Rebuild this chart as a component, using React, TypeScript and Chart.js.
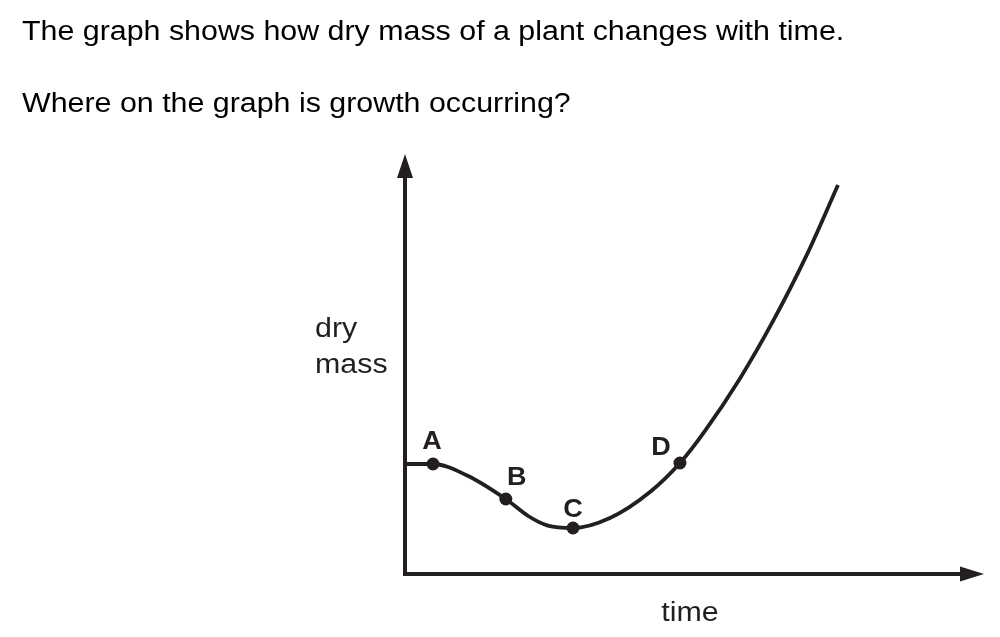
import React, { useEffect, useRef } from "react";
import { Chart, registerables } from "chart.js";

Chart.register(...registerables);

// ---- text ----
const QUESTION_LINES = [
  "The graph shows how dry mass of a plant changes with time.",
  "Where on the graph is growth occurring?",
];
const X_AXIS_LABEL = "time";
const Y_AXIS_LABEL = ["dry", "mass"];

// ---- curve (time, dry mass) in arbitrary units ----
const curveTime = [0, 0.5, 1.1, 1.8, 2.2, 2.55, 3.0, 3.66, 4.375, 4.91, 5.357, 5.982, 6.571, 7.179, 7.732];
const curveMass = [2.75, 2.75, 2.47, 1.875, 1.45, 1.21, 1.15, 1.4, 2.05, 2.775, 3.58, 4.89, 6.32, 7.99, 9.725];

// ---- marked points ----
const pointLabels = ["A", "B", "C", "D"];
const pointTime = [0.5, 1.8, 3.0, 4.91];
const pointMass = [2.75, 1.875, 1.15, 2.775];

// ---- style ----
const INK = "#231f20";
const FONT = "'Liberation Sans', Arial, Helvetica, sans-serif";
const TEXT_STRETCH = 1.125;
const LABEL_OFFSETS: [number, number][] = [
  [-1, -15],
  [11, -14],
  [0, -11],
  [-19, -8],
];

function stretchedText(
  ctx: CanvasRenderingContext2D,
  text: string,
  x: number,
  y: number,
  align: CanvasTextAlign,
  sx: number
) {
  ctx.save();
  ctx.translate(x, y);
  ctx.scale(sx, 1);
  ctx.textAlign = align;
  ctx.textBaseline = "alphabetic";
  ctx.fillText(text, 0, 0);
  ctx.restore();
}

const decorations = {
  id: "decorations",
  afterDraw(chart: any) {
    const { ctx, chartArea, scales } = chart;
    const xs = scales.x;
    const ys = scales.y;
    const x0 = xs.getPixelForValue(0);
    const y0 = ys.getPixelForValue(0);
    ctx.save();
    ctx.fillStyle = INK;
    // y-axis arrowhead
    ctx.beginPath();
    ctx.moveTo(x0, chartArea.top - 20);
    ctx.lineTo(x0 - 8, chartArea.top + 4);
    ctx.lineTo(x0 + 8, chartArea.top + 4);
    ctx.closePath();
    ctx.fill();
    // x-axis arrowhead
    ctx.beginPath();
    ctx.moveTo(chartArea.right + 19, y0);
    ctx.lineTo(chartArea.right - 5, y0 - 7.5);
    ctx.lineTo(chartArea.right - 5, y0 + 7.5);
    ctx.closePath();
    ctx.fill();

    // point labels
    ctx.font = `bold 25px ${FONT}`;
    pointLabels.forEach((lab, i) => {
      const px = xs.getPixelForValue(pointTime[i]) + LABEL_OFFSETS[i][0];
      const py = ys.getPixelForValue(pointMass[i]) + LABEL_OFFSETS[i][1];
      stretchedText(ctx, lab, px, py, "center", 1.08);
    });

    // axis labels
    ctx.font = `27px ${FONT}`;
    stretchedText(ctx, Y_AXIS_LABEL[0], chartArea.left - 90, 337, "left", TEXT_STRETCH);
    stretchedText(ctx, Y_AXIS_LABEL[1], chartArea.left - 90, 373, "left", TEXT_STRETCH);
    stretchedText(ctx, X_AXIS_LABEL, (chartArea.left + chartArea.right) / 2 + 5, 621, "center", TEXT_STRETCH);
    ctx.restore();
  },
};

export default function App() {
  const canvasRef = useRef<HTMLCanvasElement | null>(null);

  useEffect(() => {
    const canvas = canvasRef.current;
    if (!canvas) return;
    const chart = new Chart(canvas, {
      type: "line",
      data: {
        datasets: [
          {
            label: "dry mass",
            data: curveTime.map((t, i) => ({ x: t, y: curveMass[i] })),
            borderColor: INK,
            borderWidth: 3.8,
            pointRadius: 0,
            cubicInterpolationMode: "monotone",
            fill: false,
            clip: false,
          } as any,
          {
            label: "points",
            data: pointTime.map((t, i) => ({ x: t, y: pointMass[i] })),
            showLine: false,
            pointRadius: 6.5,
            pointBackgroundColor: INK,
            pointBorderWidth: 0,
            borderColor: INK,
            clip: false,
          } as any,
        ],
      },
      options: {
        responsive: false,
        animation: false,
        devicePixelRatio: 1,
        layout: { padding: { left: 405, top: 174, right: 35, bottom: 63 } },
        plugins: {
          legend: { display: false },
          tooltip: { enabled: false },
          title: { display: false },
        },
        events: [],
        scales: {
          x: {
            type: "linear",
            min: 0,
            max: 10,
            grid: { display: false, drawTicks: false },
            ticks: { display: false },
            border: { display: true, width: 4, color: INK },
          },
          y: {
            type: "linear",
            min: 0,
            max: 10,
            grid: { display: false, drawTicks: false },
            ticks: { display: false },
            border: { display: true, width: 4, color: INK },
          },
        },
      },
      plugins: [decorations],
    });
    return () => chart.destroy();
  }, []);

  const lineStyle = (top: number): React.CSSProperties => ({
    position: "absolute",
    left: 22,
    top,
    margin: 0,
    fontFamily: FONT,
    fontSize: 27,
    lineHeight: "27px",
    color: "#000",
    whiteSpace: "nowrap",
    transform: `scaleX(${TEXT_STRETCH})`,
    transformOrigin: "0 0",
  });

  return (
    <div
      style={{
        position: "fixed",
        left: 0,
        top: 0,
        width: 1000,
        height: 637,
        background: "#fff",
        overflow: "hidden",
      }}
    >
      <canvas ref={canvasRef} width={1000} height={637} style={{ position: "absolute", left: 0, top: 0 }} />
      <div style={lineStyle(18)}>{QUESTION_LINES[0]}</div>
      <div style={lineStyle(90)}>{QUESTION_LINES[1]}</div>
    </div>
  );
}
